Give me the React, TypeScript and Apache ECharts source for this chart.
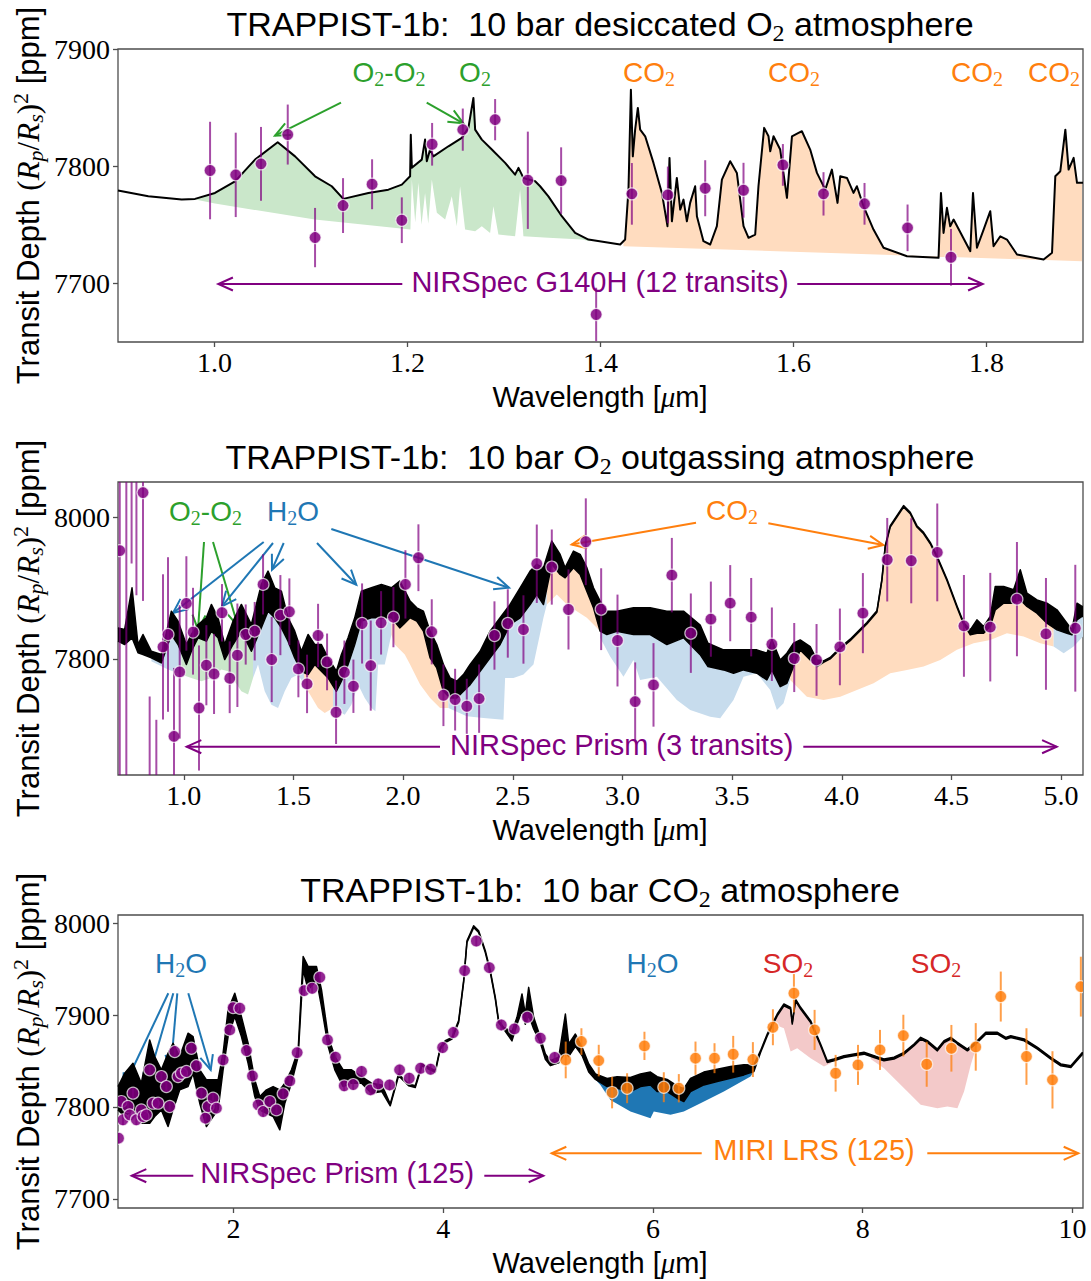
import React, { useEffect, useRef } from "react";
import * as echarts from "echarts";

const SANS = "'Liberation Sans', Arial, sans-serif";
const SERIF = "'Liberation Serif', 'Times New Roman', serif";

const PURPLE = "#800080";
const ORANGE = "#ff7f0e";
const GREEN = "#2ca02c";
const BLUE = "#1f77b4";
const RED = "#d62728";

// ---------------- Panel 1: desiccated O2 (NIRSpec G140H) ----------------
const p1ModelX = [0.9, 0.9314, 0.966, 0.9798, 1.0005, 1.0213, 1.042, 1.0655, 1.0835, 1.1042, 1.1215, 1.1335, 1.1595, 1.1802, 1.1941, 1.2027, 1.2034, 1.2045, 1.2148, 1.2182, 1.22, 1.2234, 1.2268, 1.2424, 1.2563, 1.2631, 1.2683, 1.2701, 1.277, 1.2874, 1.3012, 1.3115, 1.315, 1.3201, 1.3323, 1.3374, 1.346, 1.3599, 1.3737, 1.3875, 1.4204, 1.4255, 1.429, 1.4315, 1.4335, 1.4359, 1.4387, 1.4411, 1.4463, 1.4549, 1.4636, 1.4694, 1.4715, 1.474, 1.4791, 1.4826, 1.486, 1.4895, 1.4929, 1.4981, 1.4999, 1.5067, 1.5137, 1.5206, 1.5258, 1.5344, 1.5413, 1.5482, 1.5534, 1.5603, 1.5637, 1.5696, 1.5741, 1.5759, 1.5793, 1.5862, 1.5932, 1.5984, 1.6052, 1.6087, 1.6173, 1.6243, 1.6329, 1.6398, 1.6456, 1.6484, 1.6554, 1.6622, 1.6657, 1.6726, 1.6829, 1.6933, 1.7176, 1.7503, 1.7528, 1.7555, 1.759, 1.7624, 1.7659, 1.7832, 1.786, 1.7901, 1.797, 1.8039, 1.8073, 1.8143, 1.8212, 1.8316, 1.8592, 1.8679, 1.8713, 1.8765, 1.8817, 1.8851, 1.8903, 1.8938, 1.9];
const p1ModelY = [7779.2, 7774.3, 7771.5, 7772.1, 7777.2, 7787.1, 7805.6, 7820.4, 7808.4, 7791.4, 7782.9, 7772.1, 7777.2, 7780, 7784.3, 7791.4, 7826.9, 7798.6, 7805.6, 7822.7, 7804.2, 7814.2, 7808.4, 7817, 7824.1, 7832.7, 7858.2, 7831.2, 7822.7, 7814.2, 7802.8, 7792.8, 7798.6, 7790, 7787.1, 7782.9, 7774.3, 7757.3, 7743.1, 7737.4, 7733.2, 7737.4, 7780, 7865.3, 7808.4, 7831.2, 7849.7, 7831.2, 7825.5, 7802.8, 7777.2, 7748.8, 7807.1, 7753, 7790, 7763, 7771.5, 7753, 7768.7, 7782.9, 7757.3, 7736, 7733.2, 7748.8, 7788.6, 7804.2, 7794.3, 7748.8, 7738.9, 7741.7, 7782.9, 7832.7, 7825.5, 7812.7, 7825.5, 7814.2, 7773, 7825.5, 7828.4, 7829.8, 7814.2, 7794.3, 7780, 7797.1, 7768.7, 7791.4, 7790, 7777.2, 7782.9, 7765.8, 7745.9, 7730.4, 7723.2, 7721.8, 7777.2, 7743.1, 7764.5, 7748.8, 7754.5, 7727.5, 7777.2, 7730.4, 7745.9, 7761.6, 7731.7, 7740.2, 7737.4, 7724.6, 7720.4, 7726.1, 7791.4, 7795.7, 7831.2, 7797.1, 7807.1, 7785.8, 7785.8];
const p1ObsX = [0.9954, 1.022, 1.0482, 1.0759, 1.1042, 1.1332, 1.1633, 1.1941, 1.2255, 1.2573, 1.2908, 1.3247, 1.3592, 1.3955, 1.4325, 1.4698, 1.5085, 1.5482, 1.589, 1.6311, 1.6736, 1.7182, 1.7632];
const p1ObsY = [7796.3, 7792.6, 7802, 7827, 7739.1, 7766.4, 7784.6, 7753.9, 7818.7, 7831.2, 7839.7, 7788, 7787.7, 7673.5, 7776.4, 7775.5, 7781.2, 7779.5, 7801.1, 7776.4, 7767.9, 7747.4, 7722.3];
const p1ObsErr = [41.6, 36, 31.5, 25.6, 25.3, 23.4, 21.3, 19.5, 18.2, 18, 17.6, 41.5, 28.4, 22.8, 26.3, 24.2, 23.9, 23.4, 17.8, 18.5, 17.8, 19.9, 24.2];
const p1GreenLowX = [0.975, 1.0005, 1.104, 1.203, 1.2045, 1.208, 1.2113, 1.2145, 1.2182, 1.2215, 1.2252, 1.2304, 1.239, 1.2459, 1.2511, 1.2545, 1.2597, 1.2701, 1.277, 1.2856, 1.289, 1.2942, 1.3115, 1.3167, 1.3201, 1.346, 1.3807, 1.3893];
const p1GreenLowY = [7772.5, 7768.1, 7754.5, 7745.9, 7788.6, 7752, 7785.8, 7750, 7777.2, 7751, 7788.6, 7760.2, 7754.5, 7774.3, 7748.8, 7782.9, 7745.9, 7744.5, 7748.8, 7743.1, 7765.8, 7741.7, 7740.2, 7780, 7740.2, 7738.9, 7737.4, 7736];
const p1OrangeLowX = [1.4238, 1.6311, 1.7176, 1.899];
const p1OrangeLowY = [7731.7, 7726.1, 7723.8, 7718.9];

// ---------------- Panel 2: O2 outgassing (NIRSpec Prism) ----------------
const p2ModelX = [0.7, 0.7304, 0.7639, 0.7912, 0.814, 0.852, 0.8976, 0.9433, 0.9737, 1.0117, 1.0345, 1.0649, 1.1029, 1.1257, 1.1561, 1.1865, 1.2245, 1.2625, 1.3081, 1.3537, 1.3841, 1.4146, 1.445, 1.4754, 1.5058, 1.5362, 1.5666, 1.597, 1.6274, 1.6578, 1.6958, 1.7186, 1.749, 1.7794, 1.8098, 1.8554, 1.9011, 1.9467, 1.9847, 2.0014, 2.0318, 2.0622, 2.0926, 2.123, 2.1534, 2.1838, 2.2142, 2.2446, 2.275, 2.3055, 2.3511, 2.3967, 2.4423, 2.4879, 2.5335, 2.5791, 2.6095, 2.6399, 2.6779, 2.7159, 2.7388, 2.7768, 2.8072, 2.8376, 2.868, 2.8984, 2.9288, 2.9744, 3.0504, 3.1264, 3.2025, 3.2785, 3.3545, 3.3901, 3.461, 3.5066, 3.5522, 3.613, 3.6586, 3.6814, 3.7194, 3.7498, 3.7802, 3.8106, 3.8562, 3.8866, 3.917, 3.9474, 3.993, 4.0386, 4.069, 4.1146, 4.1603, 4.1831, 4.1983, 4.2211, 4.2515, 4.2819, 4.3123, 4.3427, 4.3731, 4.4035, 4.4339, 4.4796, 4.5252, 4.5556, 4.586, 4.6164, 4.6468, 4.6772, 4.7, 4.738, 4.7836, 4.814, 4.8444, 4.89, 4.9356, 4.9813, 5.0269, 5.0497, 5.0725, 5.0953, 5.1];
const p2ModelHi = [7843.9, 7841.6, 7900.5, 7820.4, 7834.5, 7810.9, 7806.2, 7867.5, 7853.4, 7820.4, 7834.5, 7848.7, 7858.1, 7877, 7858.1, 7820.4, 7853.4, 7877, 7848.7, 7905.3, 7924.1, 7900.5, 7895.8, 7858.1, 7839.2, 7810.9, 7834.5, 7820.4, 7820.4, 7801.5, 7782.6, 7806.2, 7829.8, 7858.1, 7895.8, 7900.5, 7905.3, 7900.5, 7910, 7900.5, 7881.7, 7872.2, 7867.5, 7839.2, 7820.4, 7792.1, 7773.2, 7768.5, 7777.9, 7792.1, 7810.9, 7839.2, 7858.1, 7877, 7900.5, 7924.1, 7933.6, 7928.9, 7966.6, 7947.7, 7928.9, 7952.4, 7947.7, 7928.9, 7900.5, 7881.7, 7867.5, 7867.5, 7872.2, 7872.2, 7867.5, 7867.5, 7848, 7822.2, 7812.8, 7812.8, 7812.8, 7812.8, 7808.1, 7826.9, 7798.6, 7808.1, 7822.2, 7826.9, 7817.5, 7798.6, 7797.3, 7802, 7816.1, 7827.9, 7837.4, 7851.5, 7868, 7912.9, 7960, 7988.3, 8002.5, 8016.6, 8007.2, 7988.3, 7978.9, 7964.7, 7945.9, 7912.9, 7875.1, 7851.5, 7841.1, 7855.2, 7845.8, 7860, 7902.4, 7902.4, 7897.7, 7926, 7893, 7883.5, 7878.8, 7869.4, 7850.5, 7841.1, 7878.8, 7874.1, 7874];
const p2ModelLo = [7825.1, 7820.4, 7829.8, 7808.6, 7806.2, 7801.5, 7794.4, 7834.5, 7820.4, 7792.1, 7810.9, 7829.8, 7825.1, 7839.2, 7829.8, 7799.1, 7820.4, 7839.2, 7810.9, 7844, 7867.5, 7858.1, 7844, 7825.1, 7801.5, 7782.6, 7777.9, 7792.1, 7782.6, 7773.2, 7754.3, 7768.5, 7792.1, 7820.4, 7853.4, 7858.1, 7858.1, 7858.1, 7843.9, 7848.7, 7858.1, 7853.4, 7839.2, 7801.5, 7787.3, 7754.3, 7744.9, 7744.9, 7754.3, 7763.7, 7782.6, 7801.5, 7820.4, 7848.7, 7858.1, 7876.9, 7891.1, 7876.9, 7933.6, 7919.4, 7914.7, 7928.9, 7919.4, 7895.8, 7872.2, 7839.2, 7834.5, 7839.2, 7834.5, 7834.5, 7820.4, 7829.8, 7806, 7789.2, 7784.5, 7779.8, 7784.5, 7779.8, 7770.3, 7784.5, 7760.9, 7765.6, 7789.2, 7812.8, 7798.6, 7789.2, 7795.3, 7800, 7814.1, 7825.9, 7835.4, 7849.5, 7866, 7910.9, 7958, 7986.3, 8000.5, 8014.6, 8005.2, 7986.3, 7976.9, 7962.7, 7943.9, 7910.9, 7873.1, 7849.5, 7834, 7836.4, 7836.4, 7845.8, 7869.4, 7878.8, 7878.8, 7883.5, 7874.1, 7864.7, 7850.5, 7841.1, 7836.4, 7834, 7855.2, 7860, 7860];
const p2ObsX = [0.708, 0.738, 0.762, 0.784, 0.814, 0.8444, 0.8748, 0.9052, 0.928, 0.9554, 0.9813, 1.0117, 1.0421, 1.0694, 1.1029, 1.1379, 1.1743, 1.2093, 1.2443, 1.2823, 1.3233, 1.3614, 1.4009, 1.4404, 1.4814, 1.5225, 1.562, 1.6122, 1.6533, 1.6943, 1.7323, 1.7734, 1.8129, 1.8524, 1.8996, 1.9558, 2.0105, 2.0698, 2.1306, 2.1838, 2.2371, 2.2903, 2.3465, 2.4165, 2.4773, 2.5487, 2.6095, 2.6779, 2.754, 2.833, 2.903, 2.9775, 3.058, 3.1417, 3.2253, 3.3119, 3.4032, 3.4914, 3.5871, 3.6814, 3.7833, 3.8851, 3.9915, 4.0964, 4.2074, 4.3169, 4.4355, 4.5571, 4.6772, 4.7988, 4.9311, 5.0649];
const p2ObsY = [7953, 7570, 8130, 8140, 8035, 7560, 7550, 7817, 7834.5, 7690.6, 7781.7, 7878.4, 7839.2, 7730.7, 7791.1, 7778.8, 7865.2, 7774.1, 7805.2, 7834.5, 7839.2, 7905.3, 7799.1, 7861.9, 7866.6, 7785.9, 7764.7, 7833.1, 7795.8, 7724.6, 7781.2, 7761.4, 7850.1, 7790.6, 7851, 7859, 7905.3, 7943, 7838.3, 7748.7, 7742.5, 7733.1, 7743.9, 7833.1, 7850.1, 7841.6, 7934.5, 7929.8, 7869.9, 7965.6, 7870.3, 7826, 7739.7, 7763.3, 7918.4, 7836.4, 7856.2, 7878.8, 7859, 7820.8, 7802, 7798.6, 7817, 7864.7, 7940.2, 7938.7, 7950.5, 7846.7, 7844.9, 7884.5, 7835.4, 7843.4];
const p2ObsErr = [430, 500, 195, 250, 153, 187, 164, 102.6, 109.2, 96.7, 94.3, 66.7, 61.3, 88.4, 56.6, 56.6, 40.6, 50.7, 73.1, 42.5, 41.3, 42.5, 60.1, 56.6, 47.2, 40.1, 41.3, 44.8, 40.1, 44.8, 44.8, 37.7, 56.6, 63.7, 44.8, 42.5, 48.3, 47.2, 46, 43.6, 43.6, 38.9, 48.3, 48.3, 48.3, 48.3, 55.4, 53.1, 56.6, 61.3, 57.8, 64.9, 55.4, 59, 52.6, 56.1, 53.1, 53.8, 55.4, 51.9, 48.8, 50.7, 54.2, 56.6, 59, 60.1, 69.1, 71.9, 76.7, 80.7, 79, 89.6];
const p2Blue1X = [0.852, 0.928, 0.9889];
const p2Blue1Y = [7796.8, 7785, 7777.9];
const p2GreenX = [0.9889, 1.0345, 1.08, 1.1257, 1.1713, 1.2017, 1.2321, 1.2625, 1.2929, 1.3157];
const p2GreenY = [7777.9, 7773.2, 7768.5, 7773.2, 7785, 7782.6, 7768.5, 7754.3, 7749.6, 7773.2];
const p2Blue2X = [1.3157, 1.3385, 1.369, 1.3994, 1.4298, 1.4602, 1.4906, 1.521, 1.5484];
const p2Blue2Y = [7773.2, 7792.1, 7754.3, 7735.4, 7730.7, 7754.3, 7773.2, 7777.9, 7763.7];
const p2Orange1X = [1.5484, 1.5666, 1.6122, 1.6426, 1.6806];
const p2Orange1Y = [7763.7, 7754.3, 7730.7, 7723.6, 7730.7];
const p2Blue3X = [1.6806, 1.7034, 1.7338, 1.7642, 1.7946, 1.8251, 1.8555, 1.8737, 1.8859, 1.9163, 1.9467];
const p2Blue3Y = [7730.7, 7726, 7721.3, 7735.4, 7763.7, 7744.9, 7730.7, 7726, 7792.1, 7792.1, 7834.5];
const p2Orange2X = [1.9467, 1.9619, 2.0075, 2.0318, 2.0774, 2.123, 2.1686, 2.2066];
const p2Orange2Y = [7834.5, 7820.4, 7806.2, 7792.1, 7763.7, 7744.9, 7730.7, 7730.7];
const p2Blue4X = [2.2066, 2.2903, 2.3663, 2.4575, 2.4651, 2.5031, 2.5487, 2.5943, 2.6399, 2.6552];
const p2Blue4Y = [7730.7, 7718.9, 7716.6, 7714.2, 7773.2, 7773.2, 7777.9, 7792.1, 7858.1, 7877];
const p2Orange3X = [2.6552, 2.7008, 2.7464, 2.792, 2.8376, 2.8832, 2.8984];
const p2Orange3Y = [7877, 7891.1, 7877, 7867.5, 7858.1, 7843.9, 7839.2];
const p2Blue5X = [2.8984, 2.944, 3.0048, 3.0504, 3.0808, 3.1569, 3.2481, 3.3089, 3.4001, 3.4457, 3.5065, 3.5522, 3.613, 3.6738, 3.7042, 3.7346, 3.765];
const p2Blue5Y = [7830, 7803.3, 7775, 7798.6, 7770.3, 7775, 7742, 7727.9, 7718.4, 7716.1, 7742, 7775, 7779.8, 7756.2, 7727.9, 7737.3, 7770.3];
const p2Orange4X = [3.765, 3.841, 3.917, 3.993, 4.0691, 4.1451, 4.2211, 4.2971, 4.3731, 4.4492, 4.5252, 4.6012, 4.6772, 4.7532, 4.8292, 4.9053, 4.9661];
const p2Orange4Y = [7770.3, 7746.7, 7742, 7746.7, 7756.2, 7765.6, 7779.8, 7784.5, 7789.2, 7798.6, 7812.8, 7822.2, 7826.9, 7836.4, 7831.7, 7822.2, 7817.5];
const p2Blue6X = [4.9661, 5.0117, 5.0573, 5.1];
const p2Blue6Y = [7817.5, 7808.1, 7817.5, 7831.7];

// ---------------- Panel 3: CO2 (NIRSpec Prism + MIRI LRS) ----------------
const p3ModelX = [0.9, 0.9636, 1.0431, 1.1226, 1.2022, 1.2499, 1.3135, 1.3771, 1.4248, 1.4884, 1.5679, 1.6157, 1.6793, 1.7429, 1.8065, 1.8542, 1.9019, 1.9496, 2.0132, 2.0768, 2.1405, 2.2041, 2.2518, 2.3154, 2.379, 2.4426, 2.4903, 2.5539, 2.6175, 2.6653, 2.713, 2.7925, 2.8402, 2.9038, 2.9674, 3.0469, 3.1265, 3.2219, 3.3173, 3.4159, 3.4955, 3.5749, 3.6704, 3.734, 3.7976, 3.8612, 3.9249, 3.9725, 4.0202, 4.0838, 4.1475, 4.1952, 4.2269, 4.2905, 4.3382, 4.4018, 4.4495, 4.4972, 4.5289, 4.5767, 4.6562, 4.7039, 4.7516, 4.7834, 4.8152, 4.8629, 4.9265, 4.9744, 5.022, 5.1016, 5.1652, 5.197, 5.2606, 5.3243, 5.3879, 5.4515, 5.5628, 5.6582, 5.7855, 5.8809, 5.9763, 6.04, 6.1354, 6.2308, 6.2944, 6.358, 6.4852, 6.6125, 6.7397, 6.8669, 6.9623, 7.026, 7.0896, 7.185, 7.2486, 7.3122, 7.3281, 7.3599, 7.4076, 7.4553, 7.5031, 7.5985, 7.6621, 7.7257, 7.8211, 7.9165, 8.0119, 8.1073, 8.2027, 8.2981, 8.3936, 8.489, 8.5526, 8.6162, 8.7116, 8.7753, 8.8389, 8.9025, 8.9979, 9.0933, 9.1729, 9.2842, 9.3634, 9.4116, 9.5389, 9.6661, 9.7934, 9.8888, 9.9843, 10.0956, 10.1];
const p3ModelHi = [7822.2, 7836.7, 7847.6, 7825.9, 7873, 7854.9, 7840.4, 7858.5, 7869.4, 7854.9, 7880.3, 7876.6, 7840.4, 7829.5, 7829.5, 7829.5, 7858.5, 7905.7, 7923.8, 7898.4, 7869.4, 7829.5, 7811.4, 7818.6, 7822.2, 7818.6, 7825.9, 7840.4, 7862.1, 7963.7, 7952.8, 7952.8, 7927.4, 7876.6, 7854.9, 7840.4, 7840.4, 7833.1, 7825.9, 7824, 7803.3, 7835.9, 7825, 7823.2, 7846.8, 7843.2, 7839.6, 7864.9, 7872.2, 7875.8, 7894, 7937.5, 7981, 7997.3, 7991.9, 7970.1, 7948.4, 7919.3, 7894, 7886.7, 7882, 7897.6, 7923, 7901.2, 7930.2, 7897.6, 7875.8, 7857.7, 7850.4, 7854.1, 7901.2, 7868.6, 7879.4, 7864.9, 7846.8, 7835.9, 7831, 7833, 7832, 7836, 7838, 7833, 7830, 7823, 7820, 7831, 7838, 7841, 7844, 7846, 7845.8, 7861.3, 7879.4, 7901.2, 7912.1, 7908.5, 7892.2, 7917.5, 7908.5, 7901.2, 7894, 7868.6, 7850.4, 7852.2, 7855.9, 7857.7, 7859.5, 7855.9, 7852.2, 7854.1, 7859.5, 7868.6, 7875.8, 7872.2, 7863.1, 7872.2, 7875.8, 7870.4, 7863.1, 7872.2, 7881.3, 7881.3, 7875.8, 7877.6, 7874, 7864.9, 7854.1, 7846.8, 7845, 7859.5, 7860];
const p3ModelLo = [7796.8, 7789.6, 7796.8, 7782.3, 7782.3, 7789.6, 7796.8, 7778.7, 7796.8, 7818.6, 7822.2, 7836.7, 7804.1, 7778.7, 7789.6, 7796.8, 7840.4, 7876.6, 7898.4, 7876.6, 7847.6, 7811.4, 7796.8, 7793.2, 7789.6, 7775.1, 7804.1, 7825.9, 7854.9, 7949.2, 7927.4, 7938.3, 7909.3, 7865.7, 7840.4, 7822.2, 7825.9, 7825.9, 7815, 7816.8, 7801.3, 7833.9, 7823, 7821.2, 7844.8, 7841.2, 7837.6, 7862.9, 7870.2, 7873.8, 7892, 7935.5, 7979, 7995.3, 7989.9, 7968.1, 7946.4, 7917.3, 7892, 7884.7, 7872, 7890, 7905, 7890, 7900, 7885, 7870, 7852, 7845, 7848, 7860, 7855, 7866, 7856, 7838, 7830, 7822.2, 7820.4, 7816.8, 7822.2, 7824, 7816.8, 7816.8, 7809.5, 7805.9, 7816.8, 7824, 7827.7, 7831.3, 7834.9, 7838.6, 7859.3, 7877.4, 7899.2, 7910.1, 7906.5, 7890.2, 7915.5, 7906.5, 7899.2, 7892, 7866.6, 7848.4, 7850.2, 7853.9, 7855.7, 7857.5, 7853.9, 7850.2, 7852.1, 7857.5, 7866.6, 7873.8, 7870.2, 7861.1, 7870.2, 7873.8, 7868.4, 7861.1, 7870.2, 7879.3, 7879.3, 7873.8, 7875.6, 7872, 7862.9, 7852.1, 7844.8, 7843, 7857.5, 7858];
const p3NirX = [0.905, 0.9318, 0.9477, 0.9954, 1.0113, 1.0431, 1.0749, 1.1226, 1.1385, 1.1704, 1.2022, 1.234, 1.2817, 1.3135, 1.3612, 1.393, 1.4407, 1.4725, 1.5043, 1.552, 1.5997, 1.6475, 1.6952, 1.7333, 1.7588, 1.8065, 1.8383, 1.9019, 1.9655, 1.9973, 2.0609, 2.1245, 2.1818, 2.2359, 2.2836, 2.3472, 2.4108, 2.4744, 2.538, 2.608, 2.6748, 2.7511, 2.8243, 2.8975, 2.9738, 3.0565, 3.1424, 3.2219, 3.3077, 3.3809, 3.4891, 3.5845, 3.6767, 3.7848, 3.8803, 3.9948, 4.0966, 4.2047, 4.3161, 4.4401, 4.5546, 4.6787, 4.8026, 4.9267, 5.0635];
const p3NirY = [7766, 7805.9, 7786, 7800.5, 7791.4, 7815, 7786, 7796.8, 7789.6, 7791.4, 7840.4, 7804.1, 7804.1, 7833.1, 7822.2, 7800.5, 7860.3, 7833.1, 7836.7, 7838.6, 7863.9, 7845.8, 7815, 7787.8, 7800.5, 7809.5, 7798.7, 7851.2, 7883.9, 7908.2, 7907.5, 7861.4, 7833.8, 7802.3, 7795, 7805.9, 7796.8, 7814.3, 7828.4, 7859.2, 7926.7, 7929.2, 7941.2, 7873, 7854.2, 7823, 7824.4, 7838.6, 7818.6, 7825.1, 7824, 7840.4, 7831.3, 7842.2, 7841.1, 7864.7, 7881, 7948.4, 7980.7, 7951.7, 7889.3, 7885, 7897.7, 7874.8, 7853.8];
const p3MiriX = [5.1684, 5.318, 5.4833, 5.6105, 5.7537, 5.919, 6.1035, 6.2467, 6.4057, 6.587, 6.7651, 6.9528, 7.1436, 7.344, 7.5412, 7.7416, 7.9547, 8.1646, 8.3873, 8.61, 8.8453, 9.0775, 9.3161, 9.561, 9.809, 10.0794];
const p3MiriY = [7851.2, 7871.2, 7850.5, 7815.7, 7820.4, 7866.5, 7821.5, 7820.4, 7853.1, 7853.1, 7857.4, 7851.6, 7886.8, 7923.8, 7883.9, 7836.7, 7845.8, 7862.1, 7877.7, 7846.5, 7863.9, 7865.4, 7920.2, 7854.9, 7829.5, 7931];
const p3MiriErr = [20, 14.5, 17.2, 17.2, 16.3, 15.4, 16.3, 15.4, 18.1, 16.3, 20, 19, 19.6, 20.9, 21.8, 20, 21.8, 21.8, 22.7, 24.5, 25.4, 25.9, 27.2, 30.8, 31.2, 32.6];
const p3BlueX = [5.4515, 5.4992, 5.5946, 5.7855, 5.9763, 6.0081, 6.1672, 6.2944, 6.4534, 6.6761, 6.9305, 6.9623];
const p3BlueY = [7830, 7824, 7807.7, 7795, 7787.8, 7795, 7791.4, 7795, 7804.1, 7816.8, 7833.1, 7838.6];
const p3Red1X = [7.1691, 7.2486, 7.3122, 7.3758, 7.5031, 7.6303, 7.6939];
const p3Red1Y = [7889.3, 7885.7, 7860.3, 7863.9, 7853.1, 7844, 7847.6];
const p3Red2X = [8.0755, 8.2027, 8.33, 8.4572, 8.5526, 8.7116, 8.807, 8.9025, 8.9661, 9.0297, 9.0933];
const p3Red2Y = [7852.3, 7842.2, 7827.7, 7813.2, 7802.3, 7798.7, 7800.5, 7798.7, 7816.8, 7845.8, 7869.4];

// ---------------- Ticks ----------------
const p1XTicks = [1.0, 1.2, 1.4, 1.6, 1.8];
const p1YTicks = [7700, 7800, 7900];
const p2XTicks = [1.0, 1.5, 2.0, 2.5, 3.0, 3.5, 4.0, 4.5, 5.0];
const p2YTicks = [7800, 8000];
const p3XTicks = [2, 4, 6, 8, 10];
const p3YTicks = [7700, 7800, 7900, 8000];

// ---------------- helpers ----------------
function interp(xs: number[], ys: number[], x: number) {
  if (x <= xs[0]) return ys[0];
  for (let i = 1; i < xs.length; i++) {
    if (x <= xs[i]) {
      const t = (x - xs[i - 1]) / (xs[i] - xs[i - 1]);
      return ys[i - 1] + t * (ys[i] - ys[i - 1]);
    }
  }
  return ys[ys.length - 1];
}
function zip(xs: number[], ys: number[]) {
  return xs.map((x, i) => [x, ys[i]]);
}
function regionPoly(mx: number[], my: number[], lowX: number[], lowY: number[]) {
  const x0 = lowX[0];
  const x1 = lowX[lowX.length - 1];
  const upper: number[][] = [[x0, interp(mx, my, x0)]];
  mx.forEach((x, i) => {
    if (x > x0 && x < x1) upper.push([x, my[i]]);
  });
  upper.push([x1, interp(mx, my, x1)]);
  const lower = zip(lowX, lowY).reverse();
  return upper.concat(lower);
}
function bandPoly(mx: number[], hi: number[], lo: number[]) {
  return zip(mx, hi).concat(zip(mx, lo).reverse());
}
function polySeries(g: number, pts: number[][], color: string, z: number) {
  return {
    type: "custom",
    coordinateSystem: "cartesian2d",
    xAxisIndex: g,
    yAxisIndex: g,
    clip: true,
    silent: true,
    z,
    data: [pts[0]],
    renderItem: (_p: any, api: any) => ({
      type: "polygon",
      shape: { points: pts.map((p) => api.coord(p)) },
      style: { fill: color, stroke: null },
    }),
  };
}
function lineSeries(g: number, xs: number[], ys: number[], width: number, z: number) {
  return {
    type: "line",
    xAxisIndex: g,
    yAxisIndex: g,
    data: zip(xs, ys),
    showSymbol: false,
    symbol: "none",
    silent: true,
    clip: true,
    z,
    lineStyle: { color: "#000", width, join: "round" },
  };
}
function obsSeries(g: number, xs: number[], ys: number[], es: number[], fill: string, bar: string, r: number, bw: number, z: number) {
  return {
    type: "custom",
    coordinateSystem: "cartesian2d",
    xAxisIndex: g,
    yAxisIndex: g,
    clip: true,
    silent: true,
    z,
    data: xs.map((x, i) => [x, ys[i], es[i]]),
    renderItem: (_p: any, api: any) => {
      const x = api.value(0);
      const y = api.value(1);
      const e = api.value(2);
      const a = api.coord([x, y + e]);
      const b = api.coord([x, y - e]);
      const c = api.coord([x, y]);
      return {
        type: "group",
        children: [
          { type: "line", shape: { x1: a[0], y1: a[1], x2: b[0], y2: b[1] }, style: { stroke: bar, lineWidth: bw } },
          { type: "circle", shape: { cx: c[0], cy: c[1], r }, style: { fill, stroke: "rgba(255,255,255,0.7)", lineWidth: 1.2 } },
        ],
      };
    },
  };
}
function mkRich(size: number, color: string) {
  const lh = Math.round(size * 1.2);
  return {
    n: { fontFamily: SANS, fontSize: size, lineHeight: lh, fill: color },
    r: { fontFamily: SERIF, fontSize: size, lineHeight: lh, fill: color },
    i: { fontFamily: SERIF, fontStyle: "italic", fontSize: size, lineHeight: lh, fill: color },
    s: { fontFamily: SERIF, fontSize: Math.round(size * 0.7), lineHeight: Math.round(size * 0.62), verticalAlign: "bottom", fill: color },
    si: { fontFamily: SERIF, fontStyle: "italic", fontSize: Math.round(size * 0.7), lineHeight: Math.round(size * 0.62), verticalAlign: "bottom", fill: color },
    u: { fontFamily: SERIF, fontSize: Math.round(size * 0.7), lineHeight: Math.round(size * 0.7), verticalAlign: "top", fill: color },
  };
}
function txt(x: number, y: number, text: string, size: number, color: string, rotation = 0) {
  return {
    type: "text",
    x,
    y,
    rotation,
    silent: true,
    z: 100,
    style: { text, rich: mkRich(size, color), align: "center", verticalAlign: "middle", fill: color, fontFamily: SANS, fontSize: size },
  };
}
function arrow(x1: number, y1: number, x2: number, y2: number, color: string, lw = 2) {
  const ang = Math.atan2(y2 - y1, x2 - x1);
  const L = 16;
  const A = 0.42;
  const h1 = [x2 - L * Math.cos(ang - A), y2 - L * Math.sin(ang - A)];
  const h2 = [x2 - L * Math.cos(ang + A), y2 - L * Math.sin(ang + A)];
  return {
    type: "group",
    silent: true,
    z: 100,
    children: [
      { type: "line", shape: { x1, y1, x2, y2 }, style: { stroke: color, lineWidth: lw } },
      { type: "polyline", shape: { points: [h1, [x2, y2], h2] }, style: { stroke: color, lineWidth: lw, fill: null } },
    ],
  };
}

const AXC = "#4d4d4d";
function xAx(g: number, min: number, max: number, ticks: number[], fmt: (v: number) => string) {
  return {
    type: "value",
    gridIndex: g,
    min,
    max,
    axisLine: { show: false },
    splitLine: { show: false },
    axisTick: { show: true, length: 5, customValues: ticks, lineStyle: { color: AXC, width: 1.3 } },
    axisLabel: { customValues: ticks, formatter: fmt, fontFamily: SERIF, fontSize: 28, color: "#000", margin: 6 },
  };
}
function yAx(g: number, min: number, max: number, ticks: number[]) {
  return {
    type: "value",
    gridIndex: g,
    min,
    max,
    axisLine: { show: false },
    splitLine: { show: false },
    axisTick: { show: true, length: 5, customValues: ticks, lineStyle: { color: AXC, width: 1.3 } },
    axisLabel: { customValues: ticks, formatter: (v: number) => String(v), fontFamily: SERIF, fontSize: 28, color: "#000", margin: 8 },
  };
}

const FILL_GREEN = "#cae7ca";
const FILL_ORANGE = "#ffdcbf";
const FILL_BLUE = "#c7dced";
const FILL_RED = "#f3c9c9";

const DOT_P = "rgba(128,0,128,0.85)";
const BAR_P = "rgba(128,0,128,0.7)";
const DOT_O = "rgba(255,127,14,0.85)";
const BAR_O = "rgba(255,127,14,0.75)";

const YLABEL = "{n|Transit Depth }{r|(}{i|R}{si|p}{r|/}{i|R}{si|s}{r|)}{u|2}{n| [ppm]}";
const XLABEL = "{n|Wavelength [}{i|μ}{n|m]}";

function buildOption() {
  const grids = [49, 482, 915].map((top) => ({
    left: 118,
    top,
    width: 965,
    height: 293,
    show: true,
    borderColor: AXC,
    borderWidth: 1.3,
  }));

  const series: any[] = [
    // panel 1
    polySeries(0, regionPoly(p1ModelX, p1ModelY, p1GreenLowX, p1GreenLowY), FILL_GREEN, 1),
    polySeries(0, regionPoly(p1ModelX, p1ModelY, p1OrangeLowX, p1OrangeLowY), FILL_ORANGE, 1),
    lineSeries(0, p1ModelX, p1ModelY, 2, 3),
    obsSeries(0, p1ObsX, p1ObsY, p1ObsErr, DOT_P, BAR_P, 6, 2, 5),
    // panel 2
    polySeries(1, regionPoly(p2ModelX, p2ModelLo, p2Blue1X, p2Blue1Y), FILL_BLUE, 1),
    polySeries(1, regionPoly(p2ModelX, p2ModelLo, p2GreenX, p2GreenY), FILL_GREEN, 1),
    polySeries(1, regionPoly(p2ModelX, p2ModelLo, p2Blue2X, p2Blue2Y), FILL_BLUE, 1),
    polySeries(1, regionPoly(p2ModelX, p2ModelLo, p2Orange1X, p2Orange1Y), FILL_ORANGE, 1),
    polySeries(1, regionPoly(p2ModelX, p2ModelLo, p2Blue3X, p2Blue3Y), FILL_BLUE, 1),
    polySeries(1, regionPoly(p2ModelX, p2ModelLo, p2Orange2X, p2Orange2Y), FILL_ORANGE, 1),
    polySeries(1, regionPoly(p2ModelX, p2ModelLo, p2Blue4X, p2Blue4Y), FILL_BLUE, 1),
    polySeries(1, regionPoly(p2ModelX, p2ModelLo, p2Orange3X, p2Orange3Y), FILL_ORANGE, 1),
    polySeries(1, regionPoly(p2ModelX, p2ModelLo, p2Blue5X, p2Blue5Y), FILL_BLUE, 1),
    polySeries(1, regionPoly(p2ModelX, p2ModelLo, p2Orange4X, p2Orange4Y), FILL_ORANGE, 1),
    polySeries(1, regionPoly(p2ModelX, p2ModelLo, p2Blue6X, p2Blue6Y), FILL_BLUE, 1),
    polySeries(1, bandPoly(p2ModelX, p2ModelHi, p2ModelLo), "#000", 2),
    lineSeries(1, p2ModelX, p2ModelHi, 1.5, 3),
    lineSeries(1, p2ModelX, p2ModelLo, 1.5, 3),
    obsSeries(1, p2ObsX, p2ObsY, p2ObsErr, DOT_P, BAR_P, 6, 2, 5),
    // panel 3
    polySeries(2, regionPoly(p3ModelX, p3ModelLo, p3BlueX, p3BlueY), BLUE, 1),
    polySeries(2, regionPoly(p3ModelX, p3ModelLo, p3Red1X, p3Red1Y), FILL_RED, 1),
    polySeries(2, regionPoly(p3ModelX, p3ModelLo, p3Red2X, p3Red2Y), FILL_RED, 1),
    polySeries(2, bandPoly(p3ModelX, p3ModelHi, p3ModelLo), "#000", 2),
    lineSeries(2, p3ModelX, p3ModelHi, 1.5, 3),
    lineSeries(2, p3ModelX, p3ModelLo, 1.5, 3),
    obsSeries(2, p3NirX, p3NirY, p3NirX.map(() => 6), DOT_P, BAR_P, 6, 2, 5),
    obsSeries(2, p3MiriX, p3MiriY, p3MiriErr, DOT_O, BAR_O, 6, 2, 5),
  ];

  const graphic: any[] = [
    // titles
    txt(600, 24, "{n|TRAPPIST-1b:  10 bar desiccated O}{s|2}{n| atmosphere}", 34, "#000"),
    txt(600, 457, "{n|TRAPPIST-1b:  10 bar O}{s|2}{n| outgassing atmosphere}", 34, "#000"),
    txt(600, 890, "{n|TRAPPIST-1b:  10 bar CO}{s|2}{n| atmosphere}", 34, "#000"),
    // axis names
    txt(28, 195.5, YLABEL, 31, "#000", Math.PI / 2),
    txt(28, 628.5, YLABEL, 31, "#000", Math.PI / 2),
    txt(28, 1061.5, YLABEL, 31, "#000", Math.PI / 2),
    txt(600, 397, XLABEL, 29, "#000"),
    txt(600, 830, XLABEL, 29, "#000"),
    txt(600, 1263, XLABEL, 29, "#000"),
    // panel 1 annotations
    txt(389, 72, "{n|O}{s|2}{n|-O}{s|2}", 28, GREEN),
    txt(475, 72, "{n|O}{s|2}", 28, GREEN),
    txt(649, 72, "{n|CO}{s|2}", 28, ORANGE),
    txt(794, 72, "{n|CO}{s|2}", 28, ORANGE),
    txt(977, 72, "{n|CO}{s|2}", 28, ORANGE),
    txt(1054, 72, "{n|CO}{s|2}", 28, ORANGE),
    arrow(341, 102.7, 275, 135.7, GREEN),
    arrow(426.7, 102.7, 463.3, 123.3, GREEN),
    txt(600, 282, "{n|NIRSpec G140H (12 transits)}", 29, PURPLE),
    arrow(402.3, 284, 218.3, 284, PURPLE),
    arrow(797.3, 284, 982.7, 284, PURPLE),
    // panel 2 annotations
    txt(205.5, 511, "{n|O}{s|2}{n|-O}{s|2}", 28, GREEN),
    txt(293, 511, "{n|H}{s|2}{n|O}", 28, BLUE),
    txt(732, 510, "{n|CO}{s|2}", 28, ORANGE),
    arrow(204, 542, 198, 629.7, GREEN),
    arrow(213, 542, 238, 626.3, GREEN),
    arrow(263.7, 542, 173, 613, BLUE),
    arrow(273, 543, 222, 606.3, BLUE),
    arrow(283.7, 543, 272, 569.7, BLUE),
    arrow(317, 543, 356.3, 584.7, BLUE),
    arrow(331.3, 529, 509, 587.7, BLUE),
    arrow(696, 522.7, 571.7, 544.5, ORANGE),
    arrow(768.3, 523.3, 883.3, 545, ORANGE),
    txt(621.7, 745, "{n|NIRSpec Prism (3 transits)}", 29, PURPLE),
    arrow(440, 746.7, 186.7, 746.7, PURPLE),
    arrow(803.3, 746.7, 1056.7, 746.7, PURPLE),
    // panel 3 annotations
    txt(181, 963, "{n|H}{s|2}{n|O}", 28, BLUE),
    txt(652.5, 963, "{n|H}{s|2}{n|O}", 28, BLUE),
    txt(788, 963, "{n|SO}{s|2}", 28, RED),
    txt(936, 963, "{n|SO}{s|2}", 28, RED),
    arrow(168.3, 993.3, 123.3, 1088.3, BLUE),
    arrow(173.3, 993.3, 145.7, 1088.3, BLUE),
    arrow(177.3, 993.3, 170.7, 1070, BLUE),
    arrow(188.3, 993.3, 210.7, 1070, BLUE),
    txt(337.3, 1173, "{n|NIRSpec Prism (125)}", 29, PURPLE),
    arrow(193.3, 1175.7, 131.7, 1175.7, PURPLE),
    arrow(484.3, 1175.7, 543.3, 1175.7, PURPLE),
    txt(814, 1150, "{n|MIRI LRS (125)}", 29, ORANGE),
    arrow(701.7, 1153.3, 551.7, 1153.3, ORANGE),
    arrow(927.3, 1153.3, 1078.3, 1153.3, ORANGE),
  ];

  return {
    animation: false,
    backgroundColor: "#fff",
    grid: grids,
    xAxis: [
      xAx(0, 0.9, 1.9, p1XTicks, (v) => v.toFixed(1)),
      xAx(1, 0.7, 5.1, p2XTicks, (v) => v.toFixed(1)),
      xAx(2, 0.9, 10.1, p3XTicks, (v) => String(v)),
    ],
    yAxis: [yAx(0, 7650, 7900, p1YTicks), yAx(1, 7636, 8050, p2YTicks), yAx(2, 7690, 8009, p3YTicks)],
    series,
    graphic,
  };
}

export default function App() {
  const ref = useRef<HTMLDivElement>(null);
  useEffect(() => {
    const chart = echarts.init(ref.current as HTMLDivElement, undefined, { renderer: "svg" });
    chart.setOption(buildOption() as any);
    return () => chart.dispose();
  }, []);
  return (
    <div
      ref={ref}
      style={{ position: "absolute", left: 0, top: 0, width: 1091, height: 1281, background: "#fff" }}
    />
  );
}
